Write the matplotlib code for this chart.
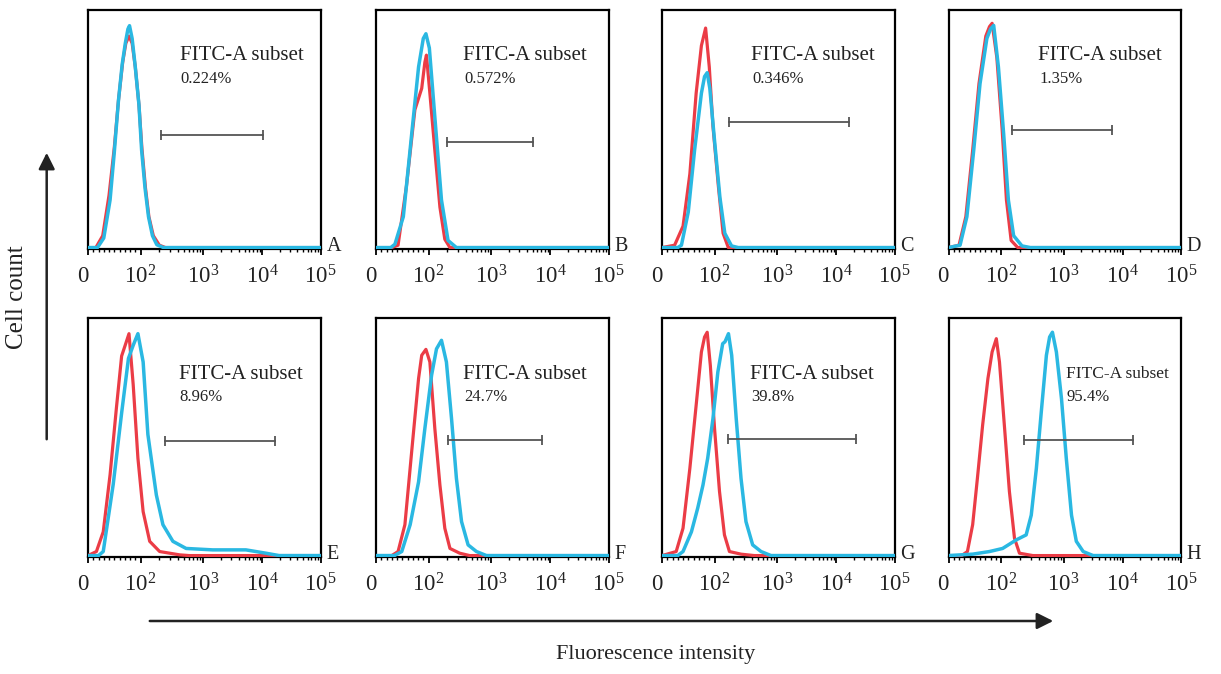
import numpy as np
import matplotlib
matplotlib.use("Agg")
import matplotlib.pyplot as plt
from matplotlib.patches import FancyArrowPatch

plt.rcParams['font.family'] = ['Liberation Serif', 'DejaVu Serif']
plt.rcParams['mathtext.fontset'] = 'custom'
plt.rcParams['mathtext.rm'] = 'Liberation Serif'

# ---------------- data ----------------
panels = ['A', 'B', 'C', 'D', 'E', 'F', 'G', 'H']
percent_labels = ['0.224%', '0.572%', '0.346%', '1.35%', '8.96%', '24.7%', '39.8%', '95.4%']
subset_label = 'FITC-A subset'

tick_values = [0, 1e2, 1e3, 1e4, 1e5]
tick_labels = ['0', r'$\mathregular{10^{2}}$', r'$\mathregular{10^{3}}$',
               r'$\mathregular{10^{4}}$', r'$\mathregular{10^{5}}$']

# control (red) histograms: fluorescence intensity and relative cell count
control_intensity = {
    'A': [0, 15, 28, 40, 50, 58, 66, 72, 78, 84, 90, 97, 105, 120, 136, 160, 200, 250, 1e5],
    'B': [0, 30, 42, 58, 74, 87, 93, 96, 105, 126, 152, 182, 220, 1e5],
    'C': [0, 24, 40, 53, 65, 75, 83, 90, 97, 115, 137, 166, 1e5],
    'D': [0, 20, 33, 46, 58, 71, 78, 83, 92, 104, 122, 145, 185, 1e5],
    'E': [0, 16, 29, 42, 54, 64, 70, 78, 86, 95, 110, 140, 202, 422, 600, 1e5],
    'F': [0, 30, 42, 55, 68, 81, 87, 95, 105, 126, 152, 182, 220, 315, 455, 1e5],
    'G': [0, 27, 40, 53, 65, 75, 81, 86, 92, 100, 120, 144, 173, 265, 432, 1e5],
    'H': [0, 25, 36, 46, 55, 65, 75, 83, 91, 97, 114, 136, 164, 197, 323, 1e5],
}
control_count = {
    'A': [0, 0, 0.05, 0.22, 0.42, 0.62, 0.78, 0.86, 0.89, 0.86, 0.76, 0.6, 0.42, 0.25, 0.13, 0.05, 0.01, 0, 0],
    'B': [0, 0, 0.01, 0.26, 0.58, 0.67, 0.78, 0.81, 0.65, 0.41, 0.17, 0.035, 0, 0],
    'C': [0, 0.01, 0.09, 0.31, 0.65, 0.85, 0.924, 0.76, 0.51, 0.26, 0.06, 0, 0],
    'D': [0, 0.01, 0.13, 0.41, 0.69, 0.89, 0.93, 0.944, 0.8, 0.5, 0.2, 0.03, 0, 0],
    'E': [0, 0.017, 0.1, 0.34, 0.62, 0.84, 0.88, 0.934, 0.72, 0.41, 0.185, 0.06, 0.017, 0.003, 0, 0],
    'F': [0, 0, 0.017, 0.13, 0.44, 0.745, 0.843, 0.868, 0.815, 0.535, 0.297, 0.115, 0.03, 0.01, 0, 0],
    'G': [0, 0.017, 0.115, 0.367, 0.633, 0.857, 0.92, 0.94, 0.8, 0.535, 0.27, 0.087, 0.017, 0.006, 0, 0],
    'H': [0, 0, 0.017, 0.13, 0.325, 0.55, 0.745, 0.857, 0.913, 0.815, 0.535, 0.27, 0.073, 0.01, 0, 0],
}

# stained sample (cyan) histograms
sample_intensity = {
    'A': [0, 18, 30, 42, 50, 58, 65, 71, 76, 79, 84, 90, 97, 104, 118, 134, 155, 182, 233, 1e5],
    'B': [0, 28, 36, 52, 68, 81, 90, 95, 103, 126, 161, 205, 279, 1e5],
    'C': [0, 30, 37, 50, 62, 75, 81, 86, 91, 100, 122, 146, 187, 239, 1e5],
    'D': [0, 22, 35, 48, 60, 73, 80, 86, 95, 110, 131, 159, 216, 294, 1e5],
    'E': [0, 20, 29, 48, 64, 77, 86, 95, 110, 131, 148, 179, 228, 329, 535, 1450, 5270, 11500, 19400, 1e5],
    'F': [0, 35, 49, 65, 81, 93, 112, 134, 161, 193, 233, 279, 337, 429, 583, 843, 1e5],
    'G': [0, 30, 40, 56, 68, 78, 87, 97, 113, 135, 147, 167, 188, 222, 265, 318, 407, 554, 800, 1e5],
    'H': [0, 46, 78, 106, 175, 252, 304, 367, 440, 531, 598, 663, 767, 926, 1110, 1360, 1640, 2140, 3150, 1e5],
}
sample_count = {
    'A': [0, 0, 0.04, 0.2, 0.4, 0.62, 0.77, 0.86, 0.92, 0.934, 0.88, 0.76, 0.6, 0.41, 0.25, 0.13, 0.05, 0.012, 0, 0],
    'B': [0, 0, 0.014, 0.13, 0.48, 0.76, 0.88, 0.90, 0.84, 0.55, 0.2, 0.03, 0, 0],
    'C': [0, 0, 0.01, 0.15, 0.41, 0.65, 0.72, 0.736, 0.67, 0.45, 0.21, 0.06, 0.007, 0, 0],
    'D': [0, 0.01, 0.13, 0.41, 0.69, 0.88, 0.92, 0.935, 0.76, 0.48, 0.2, 0.05, 0.007, 0, 0],
    'E': [0, 0, 0.017, 0.3, 0.6, 0.83, 0.885, 0.934, 0.815, 0.51, 0.41, 0.255, 0.13, 0.06, 0.03, 0.024, 0.024, 0.01, 0, 0],
    'F': [0, 0, 0.017, 0.13, 0.31, 0.535, 0.76, 0.87, 0.906, 0.815, 0.577, 0.325, 0.143, 0.045, 0.017, 0, 0],
    'G': [0, 0, 0.017, 0.1, 0.2, 0.297, 0.41, 0.577, 0.773, 0.892, 0.9, 0.934, 0.843, 0.577, 0.325, 0.143, 0.045, 0.017, 0, 0],
    'H': [0, 0.006, 0.017, 0.03, 0.066, 0.087, 0.17, 0.367, 0.605, 0.843, 0.92, 0.94, 0.857, 0.66, 0.41, 0.17, 0.06, 0.017, 0, 0],
}

# gate (marker) limits, fluorescence intensity
gate_low = [215, 198, 170, 150, 244, 205, 163, 237]
gate_high = [10300, 5080, 16300, 6540, 16600, 7290, 21900, 15100]

# ---------------- layout (not data) ----------------
gate_height = [0.473, 0.444, 0.528, 0.493, 0.482, 0.486, 0.49, 0.486]
text_x = [0.394, 0.375, 0.383, 0.387, 0.391, 0.375, 0.38, 0.504]
col_left_px = [88, 376, 662, 948.5]
row_bottom_px = [249, 557]
ax_w_px, ax_h_px = 232.5, 239
W, H = 1221, 674

RED = '#EB3C46'
CYAN = '#2AB8E2'


# biexponential-like display scale (linear below 100, log above)
def fwd(v):
    v = np.asarray(v, dtype=float)
    lin = v <= 100
    vv = np.where(lin, 100.0, v)
    L = np.log10(vv)
    out_log = np.where(L <= 3, 0.226 + (L - 2) * 0.269,
                       np.where(L <= 4, 0.495 + (L - 3) * 0.255,
                                0.75 + (L - 4) * 0.25))
    return np.where(lin, 0.226 * v / 100.0, out_log)


def inv(u):
    u = np.asarray(u, dtype=float)
    L = np.where(u <= 0.495, 2 + (u - 0.226) / 0.269,
                 np.where(u <= 0.75, 3 + (u - 0.495) / 0.255,
                          4 + (u - 0.75) / 0.25))
    return np.where(u <= 0.226, u / 0.226 * 100.0, 10 ** np.clip(L, -10, 20))


minor_ticks = [10 * k for k in range(1, 10)] + [k * 10 ** n for n in (2, 3, 4) for k in range(2, 10)]

fig = plt.figure(figsize=(W / 100, H / 100), dpi=100)

for i, p in enumerate(panels):
    r, c = divmod(i, 4)
    left = col_left_px[c] / W
    bottom = 1 - row_bottom_px[r] / H
    ax = fig.add_axes([left, bottom, ax_w_px / W, ax_h_px / H])
    ax.set_xscale('function', functions=(fwd, inv))
    ax.plot(control_intensity[p], control_count[p], color=RED, lw=2.3, solid_joinstyle='round', zorder=3)
    ax.plot(sample_intensity[p], sample_count[p], color=CYAN, lw=2.5, solid_joinstyle='round', zorder=4)
    ax.set_xlim(0, 1e5)
    ax.set_ylim(-0.006, 1.0)
    ax.set_yticks([])
    ax.set_xticks(tick_values)
    ax.set_xticklabels(tick_labels)
    ax.set_xticks(minor_ticks, minor=True)
    ax.tick_params(axis='x', which='major', direction='out', length=4, width=1.3,
                   labelsize=16.5, pad=8, color='black', labelcolor='#222222')
    ax.tick_params(axis='x', which='minor', direction='out', length=2.5, width=1.0, color='black')
    ax.get_xticklabels()[0].set_horizontalalignment('right')
    for s in ax.spines.values():
        s.set_linewidth(1.6)
        s.set_color('black')
    # gate
    ax.plot([gate_low[i], gate_high[i]], [gate_height[i], gate_height[i]], color='#555555',
            lw=1.3, marker='|', markersize=7, mew=1.3, zorder=5)
    # texts
    ty1, ty2 = (0.808, 0.712) if r == 0 else (0.765, 0.668)
    fs1 = 15 if p != 'H' else 12.5
    ax.text(text_x[i], ty1, subset_label, transform=ax.transAxes, fontsize=fs1,
            ha='left', va='center', color='#222222')
    ax.text(text_x[i] + 0.004, ty2, percent_labels[i], transform=ax.transAxes, fontsize=12,
            ha='left', va='center', color='#222222')
    ax.text(1.025, 0.01, p, transform=ax.transAxes, fontsize=14.5, ha='left', va='center',
            color='#222222')

# axis arrows and titles
fig.add_artist(FancyArrowPatch((46.7 / W, 1 - 442 / H), (46.7 / W, 1 - 150 / H),
                               transform=fig.transFigure, arrowstyle='-|>,head_length=0.7,head_width=0.35',
                               mutation_scale=14, lw=1.8, color='#222222'))
fig.add_artist(FancyArrowPatch((147 / W, 1 - 621 / H), (1056 / W, 1 - 621 / H),
                               transform=fig.transFigure, arrowstyle='-|>,head_length=0.7,head_width=0.35',
                               mutation_scale=14, lw=1.8, color='#222222'))
fig.text(17 / W, 1 - 297 / H, 'Cell count', rotation=90, fontsize=18, ha='center', va='center',
         color='#222222')
fig.text(656 / W, 1 - 655 / H, 'Fluorescence intensity', fontsize=16, ha='center', va='center',
         color='#222222')

fig.savefig('out.png', dpi=100)
